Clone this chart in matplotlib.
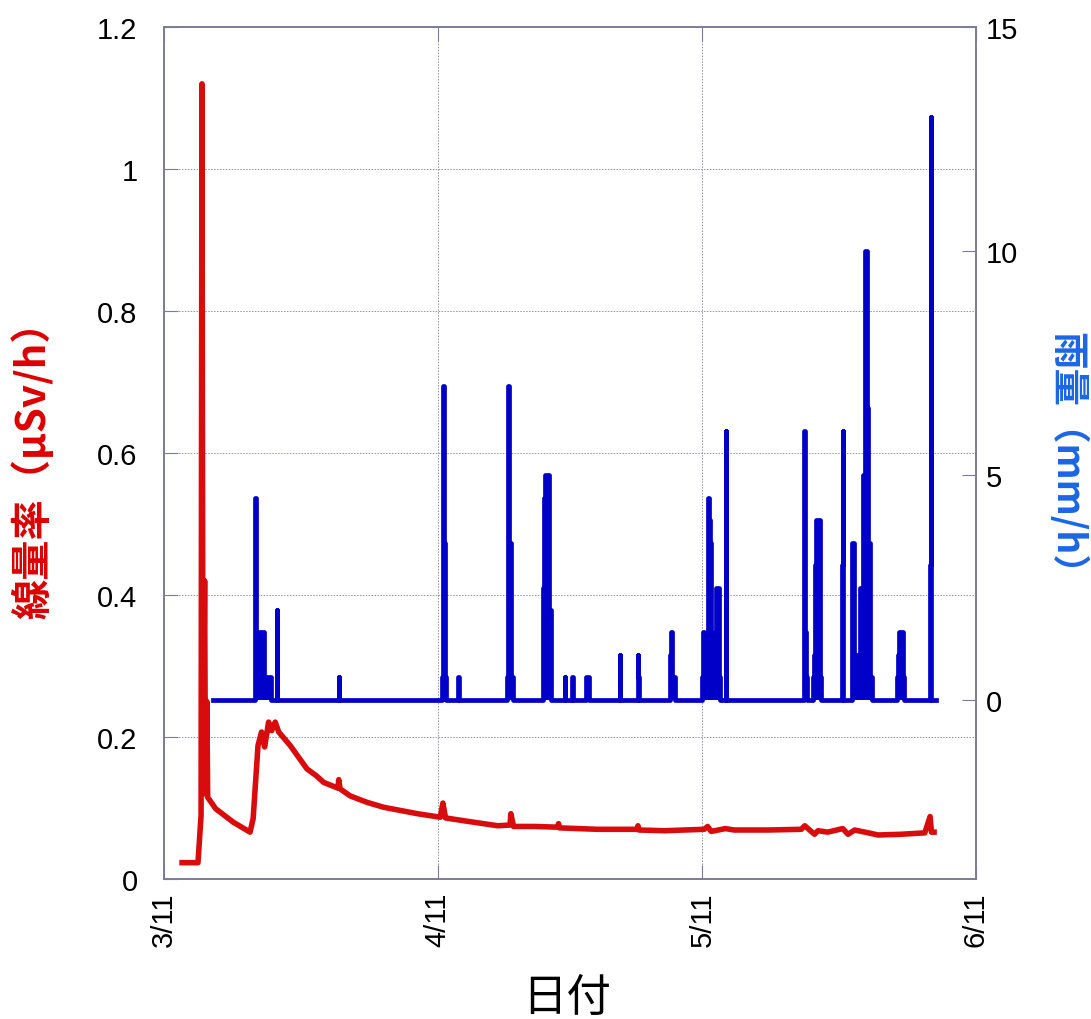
import matplotlib
matplotlib.use('Agg')
import matplotlib.pyplot as plt

# days counted from 3/11
month_ticks = [0, 31, 61, 92]
month_labels = ['3/11', '4/11', '5/11', '6/11']

# air dose rate (uSv/h)
dose_day = [2.05, 3.85, 4.2, 4.3, 4.42, 4.6, 4.7, 4.85, 4.95, 5.35, 5.85, 7.85, 9.75,
            10.1, 10.65, 11.05, 11.4, 11.85, 12.2, 12.6, 13.0, 14.3, 16.2, 17.2, 18.1,
            19.7, 19.8, 19.95, 21.1, 23.0, 24.9, 28.7, 31.3, 31.6, 31.9, 34.0, 37.8,
            39.2, 39.3, 39.6, 42.0, 44.6, 44.7, 44.8, 49.1, 53.6, 53.7, 53.8, 56.7,
            61.2, 61.6, 62.0, 63.6, 64.6, 68.4, 72.2, 72.6, 73.7, 74.1, 75.2,
            76.9, 77.5, 78.25, 79.8, 80.9, 83.5, 86.2, 86.8, 86.95, 87.25]
dose_val = [0.023, 0.023, 0.09, 1.12, 0.12, 0.42, 0.12, 0.25, 0.115, 0.108, 0.099, 0.080, 0.066,
            0.085, 0.188, 0.207, 0.186, 0.221, 0.209, 0.221, 0.207, 0.188, 0.155, 0.146, 0.136,
            0.128, 0.140, 0.127, 0.117, 0.108, 0.101, 0.092, 0.087, 0.107, 0.086, 0.082, 0.075,
            0.076, 0.092, 0.074, 0.074, 0.073, 0.078, 0.072, 0.070, 0.070, 0.075, 0.069, 0.068,
            0.070, 0.074, 0.067, 0.071, 0.069, 0.069, 0.070, 0.075, 0.063, 0.068, 0.066,
            0.071, 0.063, 0.069, 0.065, 0.062, 0.063, 0.065, 0.088, 0.066, 0.066]

# rainfall (mm/h), value holds from each time until the next one
rain_day = [5.6, 10.3, 10.33, 10.4, 11.35, 12.15, 12.8, 12.85, 19.84, 19.88,
            31.5, 31.6, 31.7, 31.8, 31.95, 33.35, 33.4,
            38.85, 38.95, 39.0, 39.1, 39.35, 39.55,
            42.95, 43.0, 43.2, 43.6, 43.9, 45.4, 45.45, 46.25, 46.3, 47.8, 48.15,
            51.65, 51.7, 53.65, 53.75, 53.85, 57.3, 57.4, 57.5, 57.95,
            61.0, 61.05, 61.2, 61.65, 61.75, 61.85, 61.95, 62.4, 62.5, 62.85, 62.9, 63.05,
            63.65, 63.7, 72.55, 72.6, 72.75, 72.9, 73.5, 73.6, 73.75, 73.9, 74.3, 74.45,
            76.8, 76.88, 76.95, 77.95, 78.15, 78.9, 79.15, 79.45, 79.6, 79.7, 79.8, 79.95, 80.25,
            83.0, 83.15, 83.25, 83.7, 83.85, 86.75, 86.85, 86.95, 87.45]
rain_mm = [0, 2.5, 4.5, 1.5, 0.5, 0, 2.0, 0, 0.5, 0,
           0.5, 7.0, 3.5, 0.5, 0, 0.5, 0,
           0.5, 2.5, 7.0, 3.5, 0.5, 0,
           2.5, 4.5, 5.0, 2.0, 0, 0.5, 0, 0.5, 0, 0.5, 0,
           1.0, 0, 1.0, 0.5, 0, 1.0, 1.5, 0.5, 0,
           0.5, 1.5, 0.5, 4.5, 4.0, 3.5, 0.5, 1.5, 2.5, 1.5, 0.5, 0,
           6.0, 0, 6.0, 1.5, 0.5, 0, 0.5, 1.0, 3.0, 4.0, 0.5, 0,
           3.0, 6.0, 0, 3.5, 1.0, 2.5, 5.0, 10.0, 9.0, 6.5, 3.5, 0.5, 0,
           0.5, 1.0, 1.5, 0.5, 0, 3.0, 13.0, 0, 0]

red = '#d80c0c'
blue = '#0000c8'
frame = '#7c7c98'

fig = plt.figure(figsize=(10.91, 10.2), dpi=100)
ax = fig.add_axes([164/1091, 140/1020, 812/1091, 852/1020])
ax2 = ax.twinx()

ax.plot(dose_day, dose_val, color=red, lw=4.0, zorder=3)
ax2.fill_between(rain_day, rain_mm, 0, step='post', color=blue, lw=0)
ax2.plot(rain_day, rain_mm, drawstyle='steps-post', color=blue, lw=3.4)

ax.set_xlim(0, 92)
ax.set_ylim(0, 1.2)
ax2.set_ylim(-4, 15)
ax.set_xticks(month_ticks)
ax.set_xticklabels(month_labels, rotation=90)
ax.set_yticks([0, 0.2, 0.4, 0.6, 0.8, 1, 1.2])
ax.set_yticklabels(['0', '0.2', '0.4', '0.6', '0.8', '1', '1.2'])
ax2.set_yticks([0, 5, 10, 15])

for lab in ax.get_xticklabels() + ax.get_yticklabels() + ax2.get_yticklabels():
    lab.set_fontfamily('Liberation Sans')
    lab.set_fontsize(21)

ax.tick_params(axis='y', direction='in', length=10, color=frame, pad=19, left=True, right=False)
ax.tick_params(axis='x', direction='in', length=10, color=frame, pad=9, top=True)
ax2.tick_params(axis='y', direction='in', length=10, color=frame, pad=7)

ax.grid(True, linestyle=(0, (1.5, 1.5)), color='#9090a8', lw=0.7)
for a in (ax, ax2):
    for s in a.spines.values():
        s.set_color(frame)
        s.set_linewidth(1.2)

cjk = ['Noto Sans CJK JP', 'DejaVu Sans']
fig.text(33/1091, 1 - 460/1020, '線量率（μSv/h）', rotation=90, ha='center', va='center',
         color='#dd0000', fontsize=29, fontweight='bold', family=cjk)
fig.text(1067/1091, 1 - 462/1020, '雨量（mm/h）', rotation=270, ha='center', va='center',
         color='#1a66e6', fontsize=27, fontweight='bold', family=cjk)
fig.text(567/1091, 1 - 998/1020, '日付', ha='center', va='center',
         fontsize=32, family=cjk)

fig.savefig('out.png', dpi=100)
